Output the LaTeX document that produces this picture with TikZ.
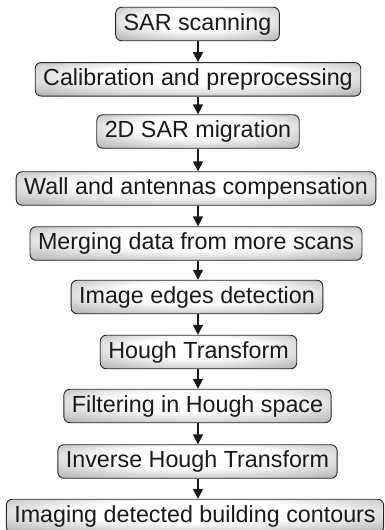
\documentclass[tikz,border=0pt]{standalone}
\usepackage{fontspec}
\setmainfont{Liberation Sans}
\usetikzlibrary{arrows.meta}
\pgfdeclareradialshading{boxshade}{\pgfpoint{0bp}{8bp}}{%
  color(0bp)=(white); color(16bp)=(white); color(34bp)=(black!25); color(48bp)=(black!45); color(80bp)=(black!55)}
\begin{document}
\begin{tikzpicture}[x=1pt,y=-1pt,
  stepbox/.style={draw=black!85, line width=0.9pt, rounded corners=6pt,
    shading=boxshade, minimum height=33.5pt, inner xsep=8pt, inner ysep=0pt,
    text height=17pt, text depth=5pt, text=black!90,
    font=\fontsize{23.3}{27}\selectfont},
  flow/.style={draw=black!90, line width=1.6pt, -{Triangle[width=10pt,length=10pt]}}]
\useasboundingbox (0,0) rectangle (385,530);
\node[stepbox] (n1) at (197.5,24) {SAR scanning};
\node[stepbox] (n2) at (198,79.3) {Calibration and preprocessing};
\node[stepbox] (n3) at (198,131.5) {2D SAR migration};
\node[stepbox] (n4) at (196,188.5) {Wall and antennas compensation};
\node[stepbox] (n5) at (196,243.5) {Merging data from more scans};
\node[stepbox] (n6) at (197,297) {Image edges detection};
\node[stepbox] (n7) at (198.5,352) {Hough Transform};
\node[stepbox] (n8) at (197.5,406) {Filtering in Hough space};
\node[stepbox] (n9) at (197.5,461.5) {Inverse Hough Transform};
\node[stepbox] (n10) at (195,516) {Imaging detected building contours};
\foreach \a/\b in {n1/n2,n2/n3,n3/n4,n4/n5,n5/n6,n6/n7,n7/n8,n8/n9,n9/n10}
  \draw[flow] (\a.south -| 198,0) -- (\b.north -| 198,0);
\end{tikzpicture}
\end{document}
